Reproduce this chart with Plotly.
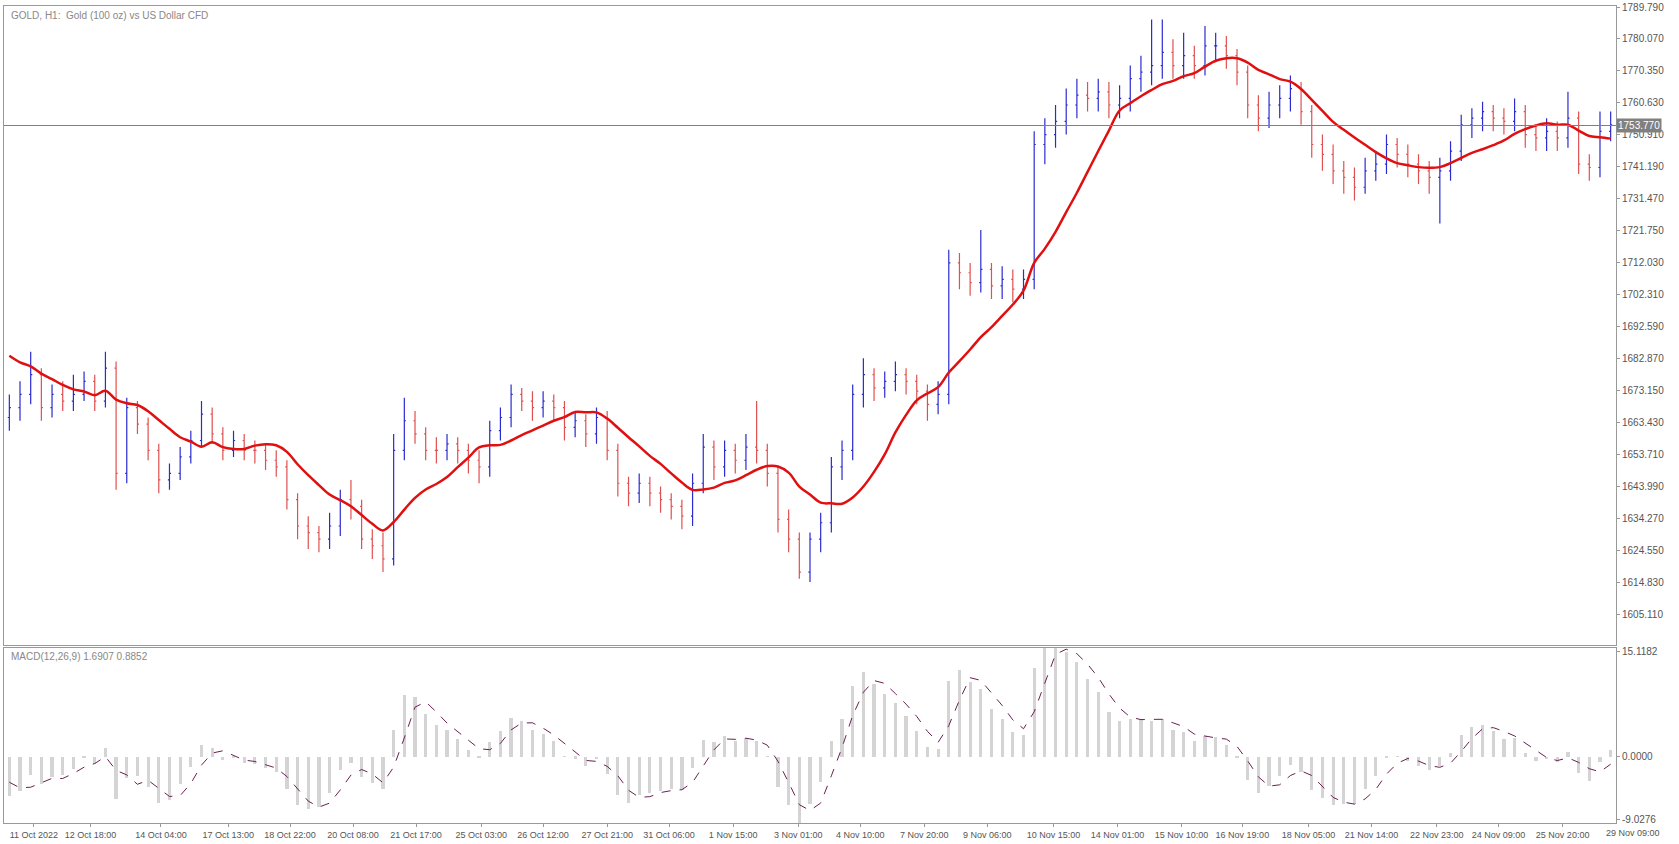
import plotly.graph_objects as go
import pandas as pd
from plotly.subplots import make_subplots

prior_close = [1695, 1693, 1692, 1690, 1689, 1688, 1687, 1686, 1684, 1682, 1680]
close = [1668,1672,1678,1668,1672,1670,1672,1676,1670,1680,1648,1668,1663,1655,1646,1648,1653,1658,1666,1660,
         1655,1658,1655,1655,1652,1650,1640,1632,1630,1628,1632,1640,1638,1628,1626,1622,1655,1664,1660,1655,
         1655,1657,1655,1652,1650,1661,1665,1672,1670,1668,1670,1668,1662,1664,1660,1665,1655,1645,1642,1645,
         1642,1640,1638,1635,1645,1656,1650,1655,1652,1656,1655,1648,1634,1628,1618,1628,1633,1650,1655,1672,
         1678,1674,1676,1678,1676,1673,1669,1672,1712,1709,1706,1710,1705,1707,1704,1707,1748,1751,1755,1760,
         1763,1762,1764,1760,1762,1768,1770,1772,1776,1772,1775,1772,1778,1778,1775,1770,1760,1756,1760,1762,
         1765,1758,1748,1745,1740,1738,1735,1740,1742,1748,1745,1742,1740,1738,1740,1746,1754,1756,1758,1756,
         1755,1758,1751,1750,1752,1750,1756,1742,1741,1752,1754]
high = [1672,1676,1685,1680,1675,1676,1678,1679,1678,1685,1682,1671,1670,1665,1657,1651,1656,1661,1670,1668,
        1662,1661,1660,1658,1657,1655,1652,1642,1635,1632,1636,1643,1646,1640,1631,1630,1660,1671,1667,1662,
        1659,1660,1659,1657,1655,1664,1668,1675,1674,1673,1673,1672,1670,1667,1666,1668,1667,1657,1647,1648,
        1647,1644,1642,1640,1648,1660,1658,1658,1657,1660,1670,1657,1650,1637,1630,1630,1636,1653,1658,1675,
        1683,1680,1679,1682,1680,1678,1675,1676,1716,1715,1712,1722,1712,1711,1710,1710,1752,1756,1760,1765,
        1768,1767,1768,1767,1766,1772,1775,1786,1786,1780,1782,1778,1784,1782,1781,1777,1772,1763,1764,1766,
        1769,1767,1760,1751,1748,1743,1741,1744,1746,1751,1750,1748,1745,1743,1744,1749,1757,1759,1761,1760,
        1759,1762,1760,1754,1756,1755,1764,1758,1745,1758,1758]
low = [1661,1664,1669,1664,1665,1667,1667,1670,1667,1668,1643,1645,1660,1652,1642,1643,1646,1651,1656,1657,
       1652,1653,1652,1651,1649,1647,1637,1628,1625,1624,1625,1629,1634,1625,1622,1618,1620,1652,1657,1652,
       1651,1652,1651,1648,1645,1647,1658,1662,1667,1664,1665,1664,1658,1659,1656,1657,1652,1641,1638,1639,
       1638,1636,1634,1631,1632,1642,1646,1647,1648,1649,1651,1644,1630,1624,1616,1615,1624,1630,1646,1652,
       1668,1670,1671,1673,1672,1669,1664,1666,1669,1704,1702,1703,1701,1701,1700,1701,1704,1742,1747,1751,
       1756,1758,1758,1756,1756,1758,1764,1766,1768,1768,1768,1768,1769,1773,1771,1766,1756,1752,1753,1756,
       1758,1754,1744,1740,1736,1733,1731,1733,1737,1739,1741,1738,1736,1733,1724,1737,1743,1750,1752,1752,
       1751,1752,1747,1746,1746,1746,1747,1739,1737,1738,1749]
open_ = [1665] + close[:-1]

tick_pos = [2.3,7.6,14.2,20.5,26.3,32.2,38.1,44.2,50,56,61.8,67.8,73.9,79.7,85.7,91.6,97.8,103.8,109.8,115.5,121.7,127.6,133.7,139.5,145.5]
tick_text = ["11 Oct 2022","12 Oct 18:00","14 Oct 04:00","17 Oct 13:00","18 Oct 22:00","20 Oct 08:00","21 Oct 17:00",
             "25 Oct 03:00","26 Oct 12:00","27 Oct 21:00","31 Oct 06:00","1 Nov 15:00","3 Nov 01:00","4 Nov 10:00",
             "7 Nov 20:00","9 Nov 06:00","10 Nov 15:00","14 Nov 01:00","15 Nov 10:00","16 Nov 19:00","18 Nov 05:00",
             "21 Nov 14:00","22 Nov 23:00","24 Nov 09:00","25 Nov 20:00"]
last_tick_text = "29 Nov 09:00"
price_ticks = [1789.79,1780.07,1770.35,1760.63,1750.91,1741.19,1731.47,1721.75,1712.03,1702.31,1692.59,
               1682.87,1673.15,1663.43,1653.71,1643.99,1634.27,1624.55,1614.83,1605.11]
macd_ticks = [15.1182, 0.0, -9.0276]
last_price = 1753.77

full = pd.Series(prior_close + close, dtype=float)
ma = full.rolling(9, min_periods=1).mean().iloc[len(prior_close):].values
macd_full = full.ewm(span=3, adjust=False).mean() - full.ewm(span=7, adjust=False).mean()
sig_full = macd_full.rolling(3, min_periods=1).mean()
macd = macd_full.iloc[len(prior_close):].values
sig = sig_full.iloc[len(prior_close):].values
x = list(range(len(close)))
x_range = [-0.5, 150.5]

fig = make_subplots(rows=2, cols=1, shared_xaxes=True, vertical_spacing=0.003, row_heights=[0.785, 0.215])
fig.add_trace(go.Ohlc(x=x, open=open_, high=high, low=low, close=close, tickwidth=0.15,
                      increasing=dict(line=dict(color="#2b2bd0", width=1.2)),
                      decreasing=dict(line=dict(color="#e05050", width=1.2)), showlegend=False), 1, 1)
fig.add_trace(go.Scatter(x=x, y=ma, mode="lines", line=dict(color="#e01010", width=2.5, shape="spline"),
                         showlegend=False), 1, 1)
fig.add_trace(go.Bar(x=x, y=macd, marker=dict(color="#d4d4d4", line=dict(width=0)), width=0.3, showlegend=False), 2, 1)
fig.add_trace(go.Scatter(x=x, y=sig, mode="lines", line=dict(color="#6a2050", width=1, dash="dash"),
                         showlegend=False), 2, 1)
fig.add_hline(y=last_price, line=dict(color="#808080", width=1), row=1, col=1)

fig.update_layout(width=1679, height=844, margin=dict(l=4, r=63, t=6, b=21), plot_bgcolor="white",
                  paper_bgcolor="white", font=dict(family="Liberation Sans", size=10, color="#555"),
                  bargap=0)
fig.update_xaxes(range=x_range, showgrid=False, showline=True, mirror=True, linecolor="#999",
                 rangeslider=dict(visible=False), zeroline=False, automargin=False, tickangle=0)
fig.update_xaxes(tickvals=tick_pos, ticktext=tick_text, ticks="outside", ticklen=3, tickcolor="#999",
                 tickfont=dict(size=9), row=2, col=1)
fig.update_xaxes(showticklabels=False, row=1, col=1)
fig.update_yaxes(side="right", showgrid=False, showline=True, mirror=True, linecolor="#999", zeroline=False,
                 ticks="outside", ticklen=3, tickcolor="#999", automargin=False)
fig.update_yaxes(range=[1595.7, 1790.1], tickvals=price_ticks, ticktext=[f"{v:.3f}" for v in price_ticks], row=1, col=1)
fig.update_yaxes(range=[-9.5, 15.6], tickvals=macd_ticks, ticktext=["15.1182", "0.0000", "-9.0276"], row=2, col=1)

fig.add_annotation(xref="paper", yref="paper", x=1.0, y=0, xanchor="left", xshift=-12, yanchor="top", yshift=-3,
                   text=last_tick_text, showarrow=False, font=dict(size=9, color="#555"))
fig.add_annotation(xref="paper", yref="y", x=1.0, y=last_price, xanchor="left", text="1753.770", showarrow=False,
                   bgcolor="#808080", font=dict(color="white", size=10), borderpad=1)
fig.add_annotation(xref="paper", yref="paper", x=0.003, y=0.998, xanchor="left", yanchor="top",
                   text="GOLD, H1:  Gold (100 oz) vs US Dollar CFD", showarrow=False, font=dict(color="#888", size=10))
fig.add_annotation(xref="paper", yref="paper", x=0.003, y=0.213, xanchor="left", yanchor="top",
                   text="MACD(12,26,9) 1.6907 0.8852", showarrow=False, font=dict(color="#888", size=10))
fig.write_html("out.html", post_script="document.body.style.margin='0';", config={"displayModeBar": False})
